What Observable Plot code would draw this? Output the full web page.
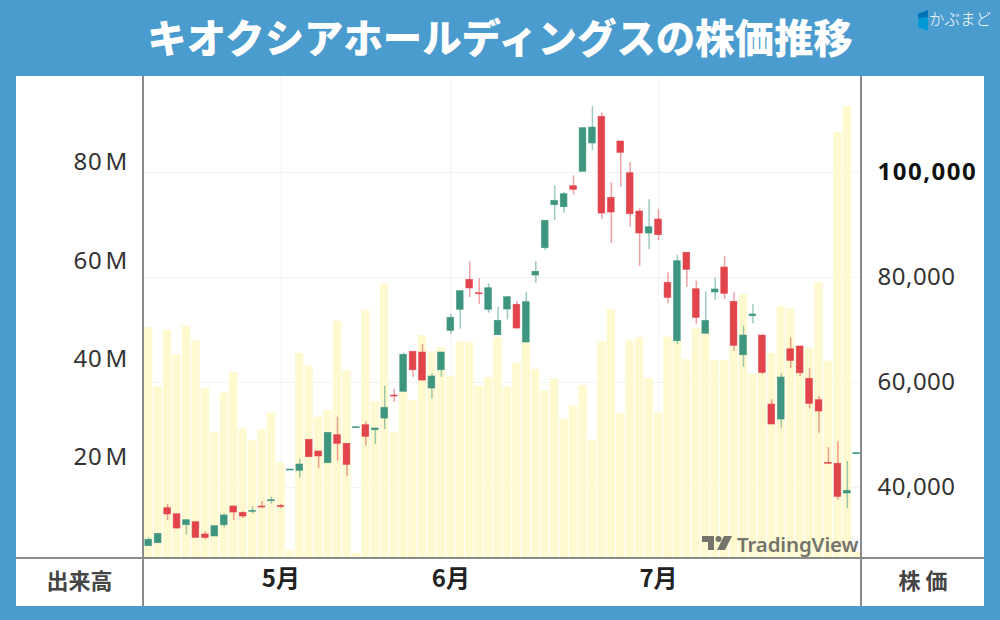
<!DOCTYPE html>
<html lang="ja">
<head>
<meta charset="utf-8">
<script src="https://cdn.jsdelivr.net/npm/d3@7"></script>
<script src="https://cdn.jsdelivr.net/npm/@observablehq/plot@0.6"></script>
<style>
html,body{margin:0;padding:0;width:1000px;height:620px;overflow:hidden;background:#4a9bce;font-family:"Noto Sans CJK JP","Noto Sans",sans-serif;}
#title{position:absolute;left:0;top:-2px;width:1000px;height:76px;line-height:76px;text-align:center;color:#fff;font-size:39.4px;font-weight:900;white-space:nowrap;}
#panel{position:absolute;left:16px;top:76px;width:968px;height:530px;background:#fff;}
#chart{position:absolute;left:16px;top:76px;}
.sep{position:absolute;background:#8a8a8a;}
.lab{position:absolute;top:563px;height:32px;line-height:32px;font-size:22px;font-weight:700;color:#444;text-align:center;white-space:nowrap;}
#brand{position:absolute;left:929px;top:7px;color:#fff;font-size:15.5px;line-height:22px;white-space:nowrap;font-weight:300;}
#wm{position:absolute;left:737px;top:530px;color:#74746c;font-size:20.5px;line-height:28px;font-weight:600;font-family:"Noto Sans",sans-serif;white-space:nowrap;letter-spacing:-0.15px;}
svg.deco{position:absolute;}
.ptick text{letter-spacing:.5px;}
.bptick text{letter-spacing:1.5px;}
.vtick text{letter-spacing:.7px;}
</style>
</head>
<body>
<div id="title">キオクシアホールディングスの株価推移</div>
<svg class="deco" style="left:917px;top:10px" width="12" height="21"><polygon points="1,4 11,0 11,21 1,17" fill="#0097d8"/><polygon points="1,4 11,0 11,7 1,8" fill="#0070b5"/></svg>
<div id="brand">かぶまど</div>
<div id="panel"></div>
<div id="chart"></div>
<div class="sep" style="left:16px;top:557px;width:968px;height:2px"></div>
<div class="sep" style="left:142px;top:76px;width:2px;height:530px"></div>
<div class="sep" style="left:860px;top:76px;width:2px;height:530px"></div>
<div class="lab" style="left:16px;width:127px">出来高</div>
<div class="lab" style="left:862px;width:122px">株 価</div>
<svg class="deco" style="left:702px;top:536px" width="30" height="16"><path d="M0 0H12V14H6V6H0Z" fill="#74746c"/><circle cx="16.5" cy="3" r="3" fill="#74746c"/><path d="M22 0H30L23 14H15Z" fill="#74746c"/></svg>
<div id="wm">TradingView</div>
<script>
const days = d3.range(76);
const monthIndex = [14, 32, 54];
const monthLabels = ["5月", "6月", "7月"];
const priceTicks = [40000, 60000, 80000];
const boldPriceTicks = [100000];
const volumeTicks = [20, 40, 60, 80];

const open = [28820,29390,36060,34910,32820,33390,31050,30670,32820,36380,35180,35370,36380,37390,36510,43240,43180,49090,46860,44630,49960,48320,51300,51870,50910,53140,57520,58230,65850,65710,58860,62340,69850,73850,79560,77010,73850,69010,73910,74800,67620,80380,85580,93770,93390,97390,100140,105530,110610,95180,105910,99870,92570,88380,91050,78990,67870,84710,77770,69280,77140,81910,75370,65200,72630,68950,55810,52950,66340,66860,60710,56630,44710,44520,38860,46380];
const high = [30420,31180,36760,34910,33770,33390,31620,32630,34990,36510,35370,36320,37330,38150,36820,43430,45390,49090,46860,50420,53390,48320,51490,52510,51240,59300,58720,65580,65850,67240,61660,65710,72950,77390,82990,79750,78800,74340,76440,75490,77200,82990,90800,97470,96250,99370,108440,112570,111300,98040,105910,101910,93090,94800,92900,80900,84250,84710,79300,77330,79870,84000,77090,70720,74800,68950,56710,61770,68520,66860,62610,57330,47620,48710,44950,46570];
const low = [28820,29390,33710,32090,30910,30420,30040,30670,32320,33710,34100,34990,36060,36820,36000,43240,41770,45770,43560,44630,45010,42040,51300,47870,48190,51050,56250,58230,61010,60250,56820,61010,69140,70150,76190,74920,73200,69010,71940,70100,67620,78860,85140,90860,92250,95750,100140,104190,91110,86480,97200,89580,82100,85280,87050,74990,67180,78150,71050,69280,75620,75810,65960,62920,71180,61470,52000,51300,62670,61140,54990,50340,44520,37580,35940,46380];
const close = [30040,31180,34860,32190,33770,30420,30420,32630,34670,35240,34480,35560,36190,37580,36320,43430,44380,45770,45910,50420,48320,44320,51490,49660,51240,55180,57330,65280,62340,60380,61140,65710,72320,77390,77910,76820,77960,71750,76250,70290,75300,81090,90800,94610,95870,96710,108440,108570,92190,92380,103750,92060,88380,89580,88060,76130,83110,81470,72320,71750,77720,76900,66990,68950,72950,61850,52000,60950,64130,61770,55940,54480,44520,38230,39370,46570];
const volume = [46.4,34.4,45.9,40.8,46.7,43.7,34.0,25.0,33.1,37.3,25.8,23.4,25.6,29.0,18.9,1.0,41.2,38.6,28.2,29.6,47.7,37.7,0.5,49.9,31.3,55.3,25.1,33.3,31.6,44.8,41.5,42.3,36.5,43.5,43.4,34.5,36.3,44.4,34.3,39.1,43.4,37.9,33.5,36.0,27.7,30.5,34.6,23.5,43.6,50.1,28.9,43.7,44.4,36.1,29.1,44.5,43.7,39.9,46.2,46.2,39.7,39.7,42.4,53.1,37.0,37.3,41.2,50.7,50.3,42.6,42.2,55.6,39.6,86.1,91.4,0.7];

const priceDomain = [26480, 118290];
const volumeDomain = [-0.55, 97.5];
const volToPrice = d3.scaleLinear(volumeDomain, priceDomain);

const rows = days.map(i => ({i, o: open[i], h: high[i], l: low[i], c: close[i], v: volume[i]}));
const up = rows.filter(d => d.c >= d.o);
const down = rows.filter(d => d.c < d.o);
const GREEN = "#3f9680", RED = "#e2444c", JP = '"Noto Sans CJK JP","Noto Sans",sans-serif', LATIN = '"Noto Sans",sans-serif';

function candles(data, color) {
  return [
    Plot.ruleX(data, {x: "i", y1: "l", y2: "h", stroke: color, strokeWidth: 1.5, strokeOpacity: 0.5}),
    Plot.barY(data, {x: "i", y1: "o", y2: "c", fill: color, stroke: color, strokeWidth: 0.7, strokeOpacity: 0.8, insetLeft: 0.8, insetRight: 0.8})
  ];
}

const chart = Plot.plot({
  width: 968, height: 530,
  marginTop: 0, marginBottom: 48, marginLeft: 127.5, marginRight: 123,
  style: {background: "transparent", fontFamily: JP, overflow: "visible"},
  x: {type: "band", domain: days, paddingInner: 0.12, paddingOuter: 0.06, round: false, axis: null, label: null},
  y: {domain: priceDomain, axis: null, label: null},
  marks: [
    Plot.ruleY(priceTicks.concat(boldPriceTicks), {stroke: "#f3f3f3", strokeWidth: 1}),
    Plot.ruleX(monthIndex, {x: d => d, stroke: "#f3f3f3", strokeWidth: 1}),
    Plot.barY(rows, {x: "i", y1: priceDomain[0], y2: d => volToPrice(d.v), fill: "#fff9cf"}),
    ...candles(up, GREEN),
    ...candles(down, RED),
    Plot.axisY(priceTicks, {anchor: "right", tickSize: 0, tickPadding: 16, fontFamily: LATIN, fontSize: 24, fill: "#333", tickFormat: d3.format(","), label: null, className: "ptick"}),
    Plot.axisY(boldPriceTicks, {anchor: "right", tickSize: 0, tickPadding: 16, fontFamily: LATIN, fontSize: 24, fontWeight: 700, fill: "#111", tickFormat: d3.format(","), label: null, className: "bptick"}),
    Plot.axisY(volumeTicks.map(v => volToPrice(v)), {anchor: "left", tickSize: 0, tickPadding: 16, fontFamily: LATIN, fontSize: 24, fill: "#333", tickFormat: p => Math.round(volToPrice.invert(p)) + "\u200aM", label: null, className: "vtick"}),
    Plot.axisX(monthIndex, {anchor: "bottom", tickSize: 0, tickPadding: 11, fontSize: 24, fontWeight: 700, fill: "#222", tickFormat: d => monthLabels[monthIndex.indexOf(d)], label: null})
  ]
});
document.getElementById("chart").appendChild(chart);
</script>
</body>
</html>
